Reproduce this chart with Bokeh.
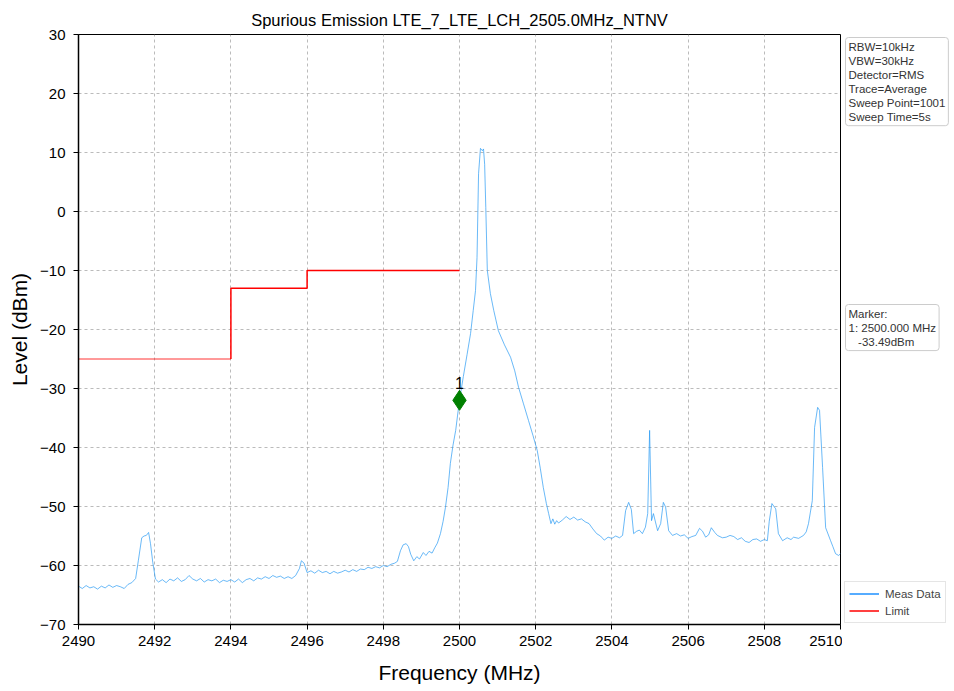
from bokeh.plotting import figure
from bokeh.layouts import row
from bokeh.models import Range1d, FixedTicker, Label, Legend, LegendItem, ColumnDataSource
from bokeh.embed import file_html
from bokeh.resources import INLINE

# ---------------- data ----------------
title_text = "Spurious Emission LTE_7_LTE_LCH_2505.0MHz_NTNV"
x_ticks = [2490, 2492, 2494, 2496, 2498, 2500, 2502, 2504, 2506, 2508, 2510]
y_ticks = [-70, -60, -50, -40, -30, -20, -10, 0, 10, 20, 30]

meas_freq = [
    2490.0, 2490.1, 2490.2, 2490.3, 2490.4, 2490.5, 2490.6, 2490.7, 2490.8, 2490.9,
    2491.0, 2491.1, 2491.2, 2491.3, 2491.4, 2491.5, 2491.57, 2491.66, 2491.72, 2491.78,
    2491.84, 2491.89, 2491.95, 2492.02, 2492.1, 2492.2, 2492.3, 2492.4, 2492.5, 2492.6,
    2492.7, 2492.8, 2492.9, 2493.0, 2493.1, 2493.2, 2493.3, 2493.4, 2493.5, 2493.6,
    2493.7, 2493.8, 2493.9, 2494.0, 2494.1, 2494.2, 2494.3, 2494.4, 2494.5, 2494.6,
    2494.7, 2494.8, 2494.9, 2495.0, 2495.1, 2495.2, 2495.3, 2495.4, 2495.5, 2495.6,
    2495.7, 2495.8, 2495.85, 2495.92, 2496.0, 2496.1, 2496.2, 2496.3, 2496.4, 2496.5,
    2496.6, 2496.7, 2496.8, 2496.9, 2497.0, 2497.1, 2497.2, 2497.3, 2497.4, 2497.5,
    2497.6, 2497.7, 2497.8, 2497.9, 2498.0, 2498.1, 2498.2, 2498.3, 2498.37, 2498.45,
    2498.52, 2498.6, 2498.66, 2498.72, 2498.8, 2498.88, 2498.95, 2499.05, 2499.12, 2499.2,
    2499.28, 2499.35, 2499.42, 2499.5, 2499.57, 2499.63, 2499.7, 2499.76, 2499.83, 2499.9,
    2499.95, 2500.0, 2500.1, 2500.2, 2500.29, 2500.36, 2500.42, 2500.46, 2500.5, 2500.55,
    2500.6, 2500.63, 2500.66, 2500.69, 2500.73, 2500.81, 2500.9, 2501.02, 2501.18, 2501.34,
    2501.45, 2501.55, 2501.68, 2501.81, 2501.93, 2502.04, 2502.12, 2502.2, 2502.28, 2502.34,
    2502.4, 2502.45, 2502.5, 2502.55, 2502.6, 2502.7, 2502.8, 2502.9, 2503.0, 2503.1,
    2503.2, 2503.3, 2503.4, 2503.5, 2503.6, 2503.7, 2503.8, 2503.9, 2504.0, 2504.1,
    2504.2, 2504.28, 2504.36, 2504.44, 2504.51, 2504.57, 2504.65, 2504.72, 2504.8, 2504.88,
    2504.94, 2504.99, 2505.04, 2505.09, 2505.15, 2505.2, 2505.28, 2505.35, 2505.41, 2505.49,
    2505.59, 2505.7, 2505.8, 2505.9, 2506.0, 2506.1, 2506.2, 2506.3, 2506.38, 2506.46,
    2506.54, 2506.61, 2506.7, 2506.77, 2506.9, 2507.0, 2507.1, 2507.2, 2507.3, 2507.4,
    2507.5, 2507.6, 2507.7, 2507.8, 2507.9, 2508.0, 2508.08, 2508.13, 2508.2, 2508.3,
    2508.37, 2508.48, 2508.6, 2508.7, 2508.77, 2508.9, 2509.03, 2509.1, 2509.16, 2509.26,
    2509.32, 2509.4, 2509.45, 2509.53, 2509.61, 2509.74, 2509.8, 2509.87, 2509.95, 2510.0,
]
meas_level = [
    -63.5, -63.9, -63.4, -63.8, -63.6, -64.0, -63.5, -63.8, -63.3, -63.7,
    -63.4, -63.6, -63.9, -63.2, -62.9, -62.2, -59.2, -55.3, -55.0, -54.9,
    -54.4, -56.3, -59.5, -62.3, -62.8, -62.4, -62.9, -62.3, -62.6, -62.1,
    -62.7, -62.4, -61.7, -62.3, -62.6, -62.2, -62.8, -62.4, -62.6, -62.3,
    -62.9, -62.5, -62.7, -62.4, -62.8, -62.3, -62.9, -62.4, -62.2, -62.6,
    -62.1, -62.3, -61.9, -62.2, -61.7, -62.0, -61.8, -62.2, -61.9, -62.2,
    -61.7, -60.5, -59.2, -59.6, -61.2, -60.9, -61.3, -60.8, -61.2, -61.0,
    -61.4, -61.0, -61.3, -61.1, -60.8, -61.1, -60.7, -61.0, -60.6, -60.7,
    -60.3, -60.5, -60.2, -60.4, -60.0, -60.2, -59.8, -59.6, -59.3, -57.5,
    -56.5, -56.3, -56.8, -58.1, -59.2, -58.5, -58.9, -57.8, -58.3, -57.6,
    -57.9, -57.0, -56.2, -54.6, -52.5, -50.2, -46.8, -42.7, -39.6, -37.1,
    -34.5, -32.0, -28.0, -24.2, -20.7, -16.8, -13.4, -7.8, 6.4, 10.7,
    10.3, 10.6, 8.0, 0.7, -10.0, -13.9, -16.8, -20.2, -22.6, -24.7,
    -27.0, -29.8, -32.6, -35.4, -38.0, -40.5, -43.5, -46.8, -49.5, -51.2,
    -52.9, -52.1, -53.0, -52.4, -52.8, -52.3, -51.7, -52.2, -51.8, -52.3,
    -52.1, -52.6, -52.9, -53.8, -54.6, -55.0, -55.7, -55.2, -55.4, -55.0,
    -55.3, -54.9, -50.7, -49.3, -50.5, -54.6, -54.2, -54.0, -54.6, -53.5,
    -51.2, -37.1, -52.4, -51.2, -52.8, -54.1, -52.9, -49.3, -50.1, -54.1,
    -54.9, -54.6, -55.0, -54.8, -55.4, -55.1, -54.9, -53.7, -54.2, -55.2,
    -54.8, -53.6, -54.4, -54.9, -55.3, -55.2, -54.9, -55.1, -55.6, -55.3,
    -55.9, -56.1, -55.6, -55.5, -55.9, -55.6, -55.8, -52.5, -49.5, -50.4,
    -54.6, -55.8, -55.3, -55.6, -55.2, -55.4, -54.9, -54.3, -52.9, -49.0,
    -36.6, -33.2, -33.7, -43.4, -53.6, -55.8, -56.8, -58.0, -58.3, -58.0,
]

limit1_freq = [2490, 2494]
limit1_level = [-25, -25]
limit2_freq = [2494, 2494, 2496, 2496, 2500]
limit2_level = [-25, -13, -13, -10, -10]

marker_freq = [2500.0]
marker_level = [-32.0]
marker_label = ["1"]

info_text = "RBW=10kHz\nVBW=30kHz\nDetector=RMS\nTrace=Average\nSweep Point=1001\nSweep Time=5s"
marker_text = "Marker:\n1: 2500.000 MHz\n\u00a0\u00a0\u00a0-33.49dBm"
legend_labels = ["Meas Data", "Limit"]

FONT = "Liberation Sans"
FW, FH = 762, 590
TOP, BOTTOM, LEFT = 34, 64, 78
SIDE_W = 110

p = figure(frame_width=FW, frame_height=FH, output_backend="svg", toolbar_location=None,
           x_range=Range1d(2490, 2510), y_range=Range1d(-70, 30),
           min_border_left=LEFT, min_border_right=2, min_border_top=TOP,
           min_border_bottom=BOTTOM)
p.background_fill_color = "white"
p.border_fill_color = "white"
p.outline_line_color = "black"
p.outline_line_width = 1

p.title.text = title_text
p.title.align = "center"
p.title.text_font = FONT
p.title.text_font_size = "16.5px"
p.title.text_font_style = "normal"
p.title.text_color = "black"
p.title.standoff = 12

for ax in (p.xaxis[0], p.yaxis[0]):
    ax.major_label_text_font = FONT
    ax.major_label_text_font_size = "15px"
    ax.major_label_text_color = "black"
    ax.axis_label_text_font = FONT
    ax.axis_label_text_font_size = "21px"
    ax.axis_label_text_font_style = "normal"
    ax.axis_label_text_color = "black"
    ax.axis_line_color = "black"
    ax.axis_line_width = 1.5
    ax.major_tick_line_color = "black"
    ax.major_tick_out = 5
    ax.major_tick_in = 0
    ax.minor_tick_line_color = None
p.xaxis.ticker = FixedTicker(ticks=x_ticks)
p.yaxis.ticker = FixedTicker(ticks=y_ticks)
p.xaxis.axis_label = "Frequency (MHz)"
p.yaxis.axis_label = "Level (dBm)"
p.xaxis.major_label_standoff = 6
p.yaxis.major_label_standoff = 8
p.xaxis.axis_label_standoff = 12
p.yaxis.axis_label_standoff = 6

p.grid.grid_line_color = "#aaaaaa"
p.grid.grid_line_dash = "3 3"
p.grid.grid_line_width = 0.8

src = ColumnDataSource(dict(f=meas_freq, l=meas_level))
p.line("f", "l", source=src, line_color="#2196f3", line_alpha=0.75, line_width=0.9)
p.line(limit1_freq, limit1_level, line_color="red", line_width=0.8)
p.line(limit2_freq, limit2_level, line_color="red", line_width=1.5)

p.scatter(marker_freq, marker_level, marker="diamond", size=20, fill_color="green",
          line_color="green")
p.text(marker_freq, [m + 2.0 for m in marker_level], text=marker_label,
       text_align="center", text_baseline="bottom", text_font_size="16px",
       text_font={"value": FONT}, text_color="black")

# ---------------- side panel with info boxes and legend ----------------
# side frame is aligned with the main frame; y in pixels from frame top
side = figure(frame_width=SIDE_W, frame_height=FH, output_backend="svg", toolbar_location=None,
              x_range=Range1d(0, SIDE_W), y_range=Range1d(FH, 0),
              x_axis_location=None, y_axis_location=None,
              min_border_left=0, min_border_right=0, min_border_top=TOP,
              min_border_bottom=BOTTOM)
side.title = None
side.outline_line_color = None
side.grid.visible = False
side.background_fill_color = "white"
side.border_fill_color = "white"

side.add_layout(Label(x=3, y=3, text=info_text,
                      text_align="left", text_baseline="top", text_font=FONT,
                      text_font_size="11.5px", text_color="#333333", text_line_height=1.17,
                      padding=3, border_line_color="#cccccc", border_line_width=1,
                      background_fill_color="white", border_radius=3))
side.add_layout(Label(x=3, y=270, text=marker_text,
                      text_align="left", text_baseline="top", text_font=FONT,
                      text_font_size="11.5px", text_color="#333333", text_line_height=1.17,
                      padding=3, border_line_color="#cccccc", border_line_width=1,
                      background_fill_color="white", border_radius=3))

d1 = side.line([0], [-100], line_color="#1e90ff", line_width=1.5)
d2 = side.line([0], [-100], line_color="red", line_width=1.5)
legend = Legend(items=[LegendItem(label=legend_labels[0], renderers=[d1]),
                       LegendItem(label=legend_labels[1], renderers=[d2])],
                location=(2, 1), label_text_font=FONT,
                label_text_font_size="11.5px", label_standoff=6,
                label_height=15, glyph_height=15, glyph_width=30, spacing=2,
                padding=4, margin=0, border_line_color="#cccccc", border_line_width=1,
                background_fill_color="white", background_fill_alpha=1)
side.add_layout(legend, "center")

layout = row(p, side, spacing=0)
open("out.html", "w").write(file_html(layout, INLINE))
